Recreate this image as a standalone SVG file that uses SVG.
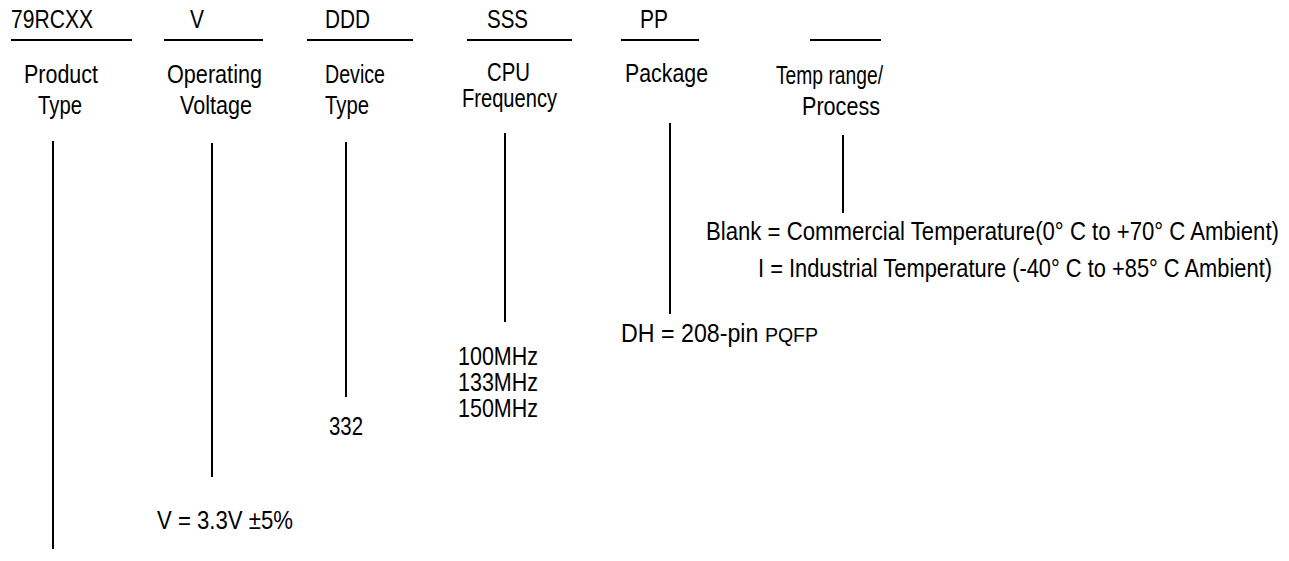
<svg xmlns="http://www.w3.org/2000/svg" width="1289" height="561" viewBox="0 0 1289 561">
<style>
  text { font-family: "Liberation Sans Narrow", "Liberation Sans", Arial, sans-serif; font-size: 25px; fill: #000; }
  .ul { stroke: #000; stroke-width: 2; }
  .conn line { stroke: #000; stroke-width: 2; }
</style>
<rect width="1289" height="561" fill="#fff"/>
<g id="product-type">
  <text x="11" y="28" textLength="82" lengthAdjust="spacingAndGlyphs">79RCXX</text>
  <line class="ul" x1="11" y1="40" x2="132" y2="40"/>
  <text x="24" y="83" textLength="74" lengthAdjust="spacingAndGlyphs">Product</text>
  <text x="38" y="114" textLength="44" lengthAdjust="spacingAndGlyphs">Type</text>
</g>
<g id="operating-voltage">
  <text x="190" y="28" textLength="14" lengthAdjust="spacingAndGlyphs">V</text>
  <line class="ul" x1="164" y1="40" x2="263" y2="40"/>
  <text x="167" y="83" textLength="95" lengthAdjust="spacingAndGlyphs">Operating</text>
  <text x="180" y="114" textLength="72" lengthAdjust="spacingAndGlyphs">Voltage</text>
</g>
<g id="device-type">
  <text x="325" y="28" textLength="45" lengthAdjust="spacingAndGlyphs">DDD</text>
  <line class="ul" x1="307" y1="40" x2="413" y2="40"/>
  <text x="325" y="83" textLength="60" lengthAdjust="spacingAndGlyphs">Device</text>
  <text x="325" y="114" textLength="44" lengthAdjust="spacingAndGlyphs">Type</text>
</g>
<g id="cpu-frequency">
  <text x="487" y="28" textLength="41" lengthAdjust="spacingAndGlyphs">SSS</text>
  <line class="ul" x1="467" y1="40" x2="572" y2="40"/>
  <text x="487" y="81" textLength="43" lengthAdjust="spacingAndGlyphs">CPU</text>
  <text x="462" y="107" textLength="95" lengthAdjust="spacingAndGlyphs">Frequency</text>
</g>
<g id="package">
  <text x="640" y="28" textLength="28" lengthAdjust="spacingAndGlyphs">PP</text>
  <line class="ul" x1="621" y1="40" x2="699" y2="40"/>
  <text x="625" y="82" textLength="83" lengthAdjust="spacingAndGlyphs">Package</text>
</g>
<g id="temp-range">
  <line class="ul" x1="810" y1="40" x2="881" y2="40"/>
  <text x="776" y="84" textLength="107" lengthAdjust="spacingAndGlyphs">Temp range/</text>
  <text x="802" y="115" textLength="78" lengthAdjust="spacingAndGlyphs">Process</text>
</g>
<g id="temp-options">
  <text x="706" y="240" textLength="573" lengthAdjust="spacingAndGlyphs">Blank = Commercial Temperature(0° C to +70° C Ambient)</text>
  <text x="758" y="277" textLength="514" lengthAdjust="spacingAndGlyphs">I = Industrial Temperature (-40° C to +85° C Ambient)</text>
</g>
<g id="package-options">
  <text x="621" y="342" textLength="197" lengthAdjust="spacingAndGlyphs">DH = 208-pin <tspan font-size="21">PQFP</tspan></text>
</g>
<g id="frequency-options">
  <text x="458" y="365" textLength="80" lengthAdjust="spacingAndGlyphs">100MHz</text>
  <text x="458" y="391" textLength="80" lengthAdjust="spacingAndGlyphs">133MHz</text>
  <text x="458" y="417" textLength="80" lengthAdjust="spacingAndGlyphs">150MHz</text>
</g>
<g id="device-options">
  <text x="329" y="435" textLength="34" lengthAdjust="spacingAndGlyphs">332</text>
</g>
<g id="voltage-options">
  <text x="157" y="529" textLength="136" lengthAdjust="spacingAndGlyphs">V = 3.3V ±5%</text>
</g>
<g id="connectors" class="conn">
  <line x1="53" y1="141" x2="53" y2="549"/>
  <line x1="212" y1="143" x2="212" y2="477"/>
  <line x1="346" y1="142" x2="346" y2="397"/>
  <line x1="505" y1="133" x2="505" y2="322"/>
  <line x1="670" y1="123" x2="670" y2="314"/>
  <line x1="843" y1="135" x2="843" y2="213"/>
</g>
</svg>
